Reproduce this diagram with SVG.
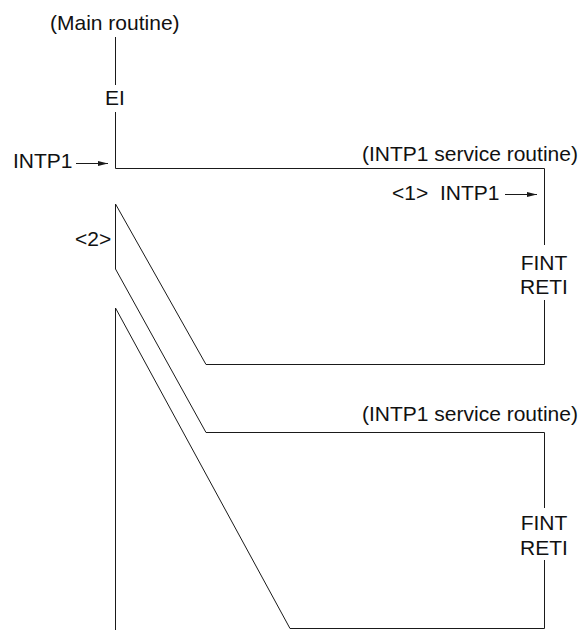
<svg xmlns="http://www.w3.org/2000/svg" width="582" height="630" viewBox="0 0 582 630">
  <style>
    .lbl { font-family: "Liberation Sans", Arial, sans-serif; font-size: 21px; fill: #111; }
    .mid { text-anchor: middle; }
    .flow { fill: none; stroke: #1a1a1a; stroke-width: 1; stroke-linejoin: miter; }
    .arr { fill: none; stroke: #1a1a1a; stroke-width: 1; marker-end: url(#head); }
  </style>
  <defs>
    <marker id="head" markerUnits="userSpaceOnUse" markerWidth="10" markerHeight="6" refX="10" refY="3" orient="auto">
      <path d="M0,0.5 L10,3 L0,5.5 Z" fill="#1a1a1a"/>
    </marker>
  </defs>

  <rect width="582" height="630" fill="#fff"/>

  <!-- execution flow lines -->
  <g id="connectors">
    <!-- main routine down to EI -->
    <path class="flow" d="M115.5,37 V85"/>
    <!-- EI down to interrupt, then across into first service routine -->
    <path class="flow" d="M115.5,112 V168.5 H544.5 V245"/>
    <!-- first service routine after FINT/RETI, return to main -->
    <path class="flow" d="M544.5,300 V364.5 H206 L115.5,204 V269"/>
    <!-- pending interrupt accepted again: second service routine -->
    <path class="flow" d="M115.5,269 L206,432.5 H544.5 V508"/>
    <!-- second service routine after FINT/RETI, return to main -->
    <path class="flow" d="M544.5,560 V628.5 H290 L115.5,308 V630"/>
    <!-- interrupt request arrows -->
    <line class="arr" x1="76" y1="163.5" x2="108" y2="163.5"/>
    <line class="arr" x1="505" y1="194.5" x2="537" y2="194.5"/>
  </g>

  <g id="main-routine">
    <text class="lbl" x="50" y="30">(Main routine)</text>
  </g>
  <g id="ei">
    <text class="lbl mid" x="115" y="105">EI</text>
  </g>
  <g id="intp1-request">
    <text class="lbl" x="13" y="168">INTP1</text>
  </g>
  <g id="service-routine-1">
    <text class="lbl" x="362" y="161">(INTP1 service routine)</text>
    <text class="lbl" x="392" y="200">&lt;1&gt;</text>
    <text class="lbl" x="440" y="200">INTP1</text>
    <text class="lbl mid" x="544" y="270">FINT</text>
    <text class="lbl mid" x="544" y="294">RETI</text>
  </g>
  <g id="mark-2">
    <text class="lbl" x="75" y="246">&lt;2&gt;</text>
  </g>
  <g id="service-routine-2">
    <text class="lbl" x="362" y="421">(INTP1 service routine)</text>
    <text class="lbl mid" x="544" y="530">FINT</text>
    <text class="lbl mid" x="544" y="555">RETI</text>
  </g>
</svg>
